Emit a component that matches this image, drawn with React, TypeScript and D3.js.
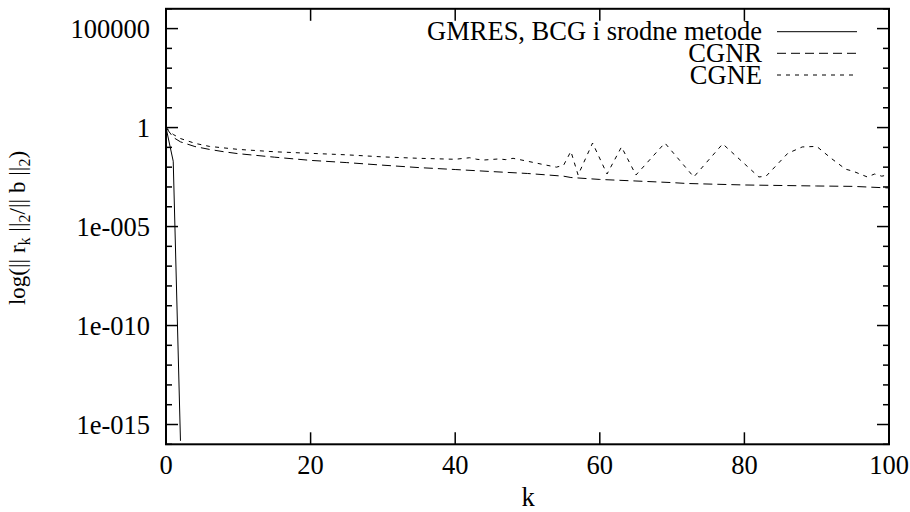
import React from "react";
import * as d3 from "d3";

const seriesNames = ["GMRES, BCG i srodne metode", "CGNR", "CGNE"];

const gmresK = [0, 1, 2];
const gmresR = [1, 2.0e-2, 1.5e-16];

const cgnrK = [0, 1, 2, 4, 6, 8, 10, 15, 20, 25, 30, 35, 40, 45, 50, 55, 56, 60, 65, 70, 72, 80, 90, 95, 100];
const cgnrR = [1, 3.2e-1, 1.9e-1, 1.1e-1, 7.9e-2, 6.0e-2, 4.8e-2, 3.2e-2, 2.2e-2, 1.7e-2, 1.26e-2, 9.5e-3, 7.6e-3, 6.0e-3, 4.8e-3, 3.5e-3, 3.0e-3, 2.4e-3, 2.0e-3, 1.66e-3, 1.5e-3, 1.26e-3, 1.12e-3, 1.07e-3, 8.9e-4];

const cgneK = [0, 1, 2, 4, 6, 10, 15, 20, 25, 30, 35, 40, 42, 43, 44, 46, 47, 48, 50, 52, 54, 55, 56, 57, 59, 61, 63, 65, 69, 73, 77, 82, 83, 86, 88, 90, 92, 94, 95, 97, 98, 99, 100];
const cgneR = [1, 4.5e-1, 2.8e-1, 1.6e-1, 1.12e-1, 7.9e-2, 6.0e-2, 5.0e-2, 4.2e-2, 3.3e-2, 2.8e-2, 2.5e-2, 3.0e-2, 2.5e-2, 2.3e-2, 2.6e-2, 2.4e-2, 2.8e-2, 2.0e-2, 1.4e-2, 1.0e-2, 1.26e-2, 6.3e-2, 4.0e-3, 1.66e-1, 4.5e-3, 1.05e-1, 4.0e-3, 1.66e-1, 3.2e-3, 1.5e-1, 3.2e-3, 3.5e-3, 5.0e-2, 1.05e-1, 1.12e-1, 2.8e-2, 7.9e-3, 6.3e-3, 3.2e-3, 4.5e-3, 3.5e-3, 4.2e-3];

const xTicks = [0, 20, 40, 60, 80, 100];
const yTicks = [1e5, 1, 1e-5, 1e-10, 1e-15];
const yTickLabels = ["100000", "1", "1e-005", "1e-010", "1e-015"];

const W = 910;
const H = 512;
const left = 166;
const right = 889;
const top = 8.8;
const bottom = 444.3;
const FONT = "Liberation Serif, Times New Roman, DejaVu Serif, serif";
const FS = 26.5;

export default function App() {
  const x = d3.scaleLinear().domain([0, 100]).range([left, right]);
  const y = d3.scaleLog().domain([1e-16, 1e6]).range([bottom, top]);

  const line = (ks: number[], rs: number[]) =>
    d3
      .line<number>()
      .x((_, i) => x(ks[i]))
      .y((v) => y(v))(rs) || "";

  const minorY: number[] = [];
  for (let e = -16; e <= 6; e++) {
    const v = Math.pow(10, e);
    if (e % 5 !== 0) minorY.push(v);
  }

  const majorLen = 12;
  const minorLen = 6;
  const ts = { fontFamily: FONT, fontSize: FS } as React.CSSProperties;

  const legendRows = [
    { name: seriesNames[0], dash: "none", y: 31.7 },
    { name: seriesNames[1], dash: "9,5", y: 53.3 },
    { name: seriesNames[2], dash: "4,5", y: 75 },
  ];

  return (
    <svg
      width={W}
      height={H}
      style={{ position: "absolute", left: 0, top: 0, background: "#fff", fontFamily: FONT }}
    >
      <rect x={0} y={0} width={W} height={H} fill="#fff" />
      {yTicks.map((t, i) => (
        <g key={"yt" + i}>
          <line x1={left} x2={left + majorLen} y1={y(t)} y2={y(t)} stroke="#000" strokeWidth={1.5} />
          <line x1={right} x2={right - majorLen} y1={y(t)} y2={y(t)} stroke="#000" strokeWidth={1.5} />
          <text x={150} y={y(t)} dy="0.35em" textAnchor="end" style={ts}>
            {yTickLabels[i]}
          </text>
        </g>
      ))}
      {minorY.map((t, i) => (
        <g key={"ym" + i}>
          <line x1={left} x2={left + minorLen} y1={y(t)} y2={y(t)} stroke="#000" strokeWidth={1.5} />
          <line x1={right} x2={right - minorLen} y1={y(t)} y2={y(t)} stroke="#000" strokeWidth={1.5} />
        </g>
      ))}
      {xTicks.map((t, i) => (
        <g key={"xt" + i}>
          <line x1={x(t)} x2={x(t)} y1={bottom} y2={bottom - majorLen} stroke="#000" strokeWidth={1.5} />
          <line x1={x(t)} x2={x(t)} y1={top} y2={top + majorLen} stroke="#000" strokeWidth={1.5} />
          <text x={x(t)} y={465} dy="0.35em" textAnchor="middle" style={ts}>
            {t}
          </text>
        </g>
      ))}
      <path d={line(gmresK, gmresR)} fill="none" stroke="#000" strokeWidth={1} />
      <path d={line(cgnrK, cgnrR)} fill="none" stroke="#000" strokeWidth={1} strokeDasharray="9,5" />
      <path d={line(cgneK, cgneR)} fill="none" stroke="#000" strokeWidth={1} strokeDasharray="4,5" />
      <rect x={left} y={top} width={right - left} height={bottom - top} fill="none" stroke="#000" strokeWidth={2} />
      {legendRows.map((r, i) => (
        <g key={"lg" + i}>
          <text x={762} y={r.y} dy="0.33em" textAnchor="end" style={ts}>
            {r.name}
          </text>
          <line x1={777} x2={857} y1={r.y} y2={r.y} stroke="#000" strokeWidth={1} strokeDasharray={r.dash} />
        </g>
      ))}
      <text x={528} y={497} dy="0.35em" textAnchor="middle" style={ts}>
        k
      </text>
      <text
        transform={`translate(25,228) rotate(-90)`}
        textAnchor="middle"
        style={{ fontFamily: FONT, fontSize: 23 }}
      >
        <tspan>log(|| r</tspan>
        <tspan style={{ fontSize: 16 }} dy={5}>k</tspan>
        <tspan dy={-5}> ||</tspan>
        <tspan style={{ fontSize: 16 }} dy={5}>2</tspan>
        <tspan dy={-5}>/|| b ||</tspan>
        <tspan style={{ fontSize: 16 }} dy={5}>2</tspan>
        <tspan dy={-5}>)</tspan>
      </text>
    </svg>
  );
}
